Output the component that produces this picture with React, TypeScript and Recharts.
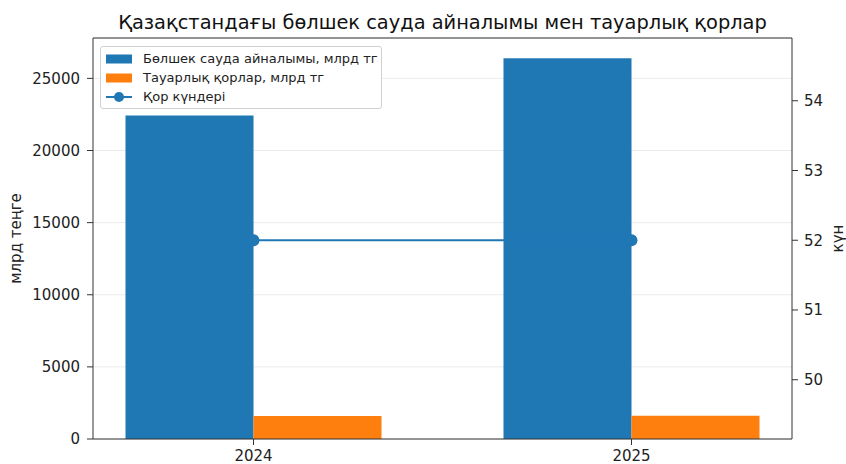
import React from "react";
import {
    ComposedChart,
    Bar,
    Line,
    XAxis,
    YAxis,
    CartesianGrid,
    ReferenceLine,
} from "recharts";

const years = ["2024", "2025"];
const retailTurnover = [22430, 26390];
const inventories = [1590, 1620];
const inventoryDays = [52, 52];

const leftTicks = [0, 5000, 10000, 15000, 20000, 25000];
const rightTicks = [50, 51, 52, 53, 54];

const BLUE = "#1f77b4";
const ORANGE = "#ff7f0e";
const FONT = "DejaVu Sans, sans-serif";

const data = years.map((year, i) => ({
    year,
    retail: retailTurnover[i],
    stock: inventories[i],
    days: inventoryDays[i],
}));

const legendItems = [
    { name: "Бөлшек сауда айналымы, млрд тг", color: BLUE, type: "rect" },
    { name: "Тауарлық қорлар, млрд тг", color: ORANGE, type: "rect" },
    { name: "Қор күндері", color: BLUE, type: "line" },
];

const ChartLegend = () => (
    <div
        style={{
            position: "absolute",
            left: 100,
            top: 46,
            width: 270,
            border: "1px solid #d0d0d0",
            borderRadius: 3,
            background: "rgba(255,255,255,0.85)",
            padding: "2px 5px",
            fontFamily: FONT,
            fontSize: 13,
            color: "#222",
        }}
    >
        {legendItems.map((item) => (
            <div
                key={item.name}
                style={{ display: "flex", alignItems: "center", height: 19, whiteSpace: "nowrap" }}
            >
                <svg width={26} height={12} style={{ marginRight: 11, flexShrink: 0 }}>
                    {item.type === "rect" ? (
                        <rect x={0} y={1.5} width={26} height={9} fill={item.color} />
                    ) : (
                        <g>
                            <line x1={0} y1={6} x2={26} y2={6} stroke={item.color} strokeWidth={2} />
                            <circle cx={13} cy={6} r={5} fill={item.color} />
                        </g>
                    )}
                </svg>
                <span>{item.name}</span>
            </div>
        ))}
    </div>
);

const tickStyle = { fontFamily: FONT, fontSize: 15, fill: "#222" };

export default function App() {
    return (
        <div style={{ position: "absolute", left: 0, top: 0, width: 846, height: 464, background: "#fff" }}>
            <div
                style={{
                    position: "absolute",
                    left: 93,
                    top: 11,
                    width: 699,
                    textAlign: "center",
                    whiteSpace: "nowrap",
                    fontFamily: FONT,
                    fontSize: 19.4,
                    lineHeight: "24px",
                    color: "#111",
                }}
            >
                Қазақстандағы бөлшек сауда айналымы мен тауарлық қорлар
            </div>
            <ComposedChart
                width={846}
                height={464}
                data={data}
                margin={{ top: 38, left: 33, right: 14, bottom: 0 }}
                barGap={0}
            >
                <CartesianGrid yAxisId="left" vertical={false} stroke="#ebebeb" />
                <XAxis
                    dataKey="year"
                    height={25}
                    padding={{ left: -28.5, right: -28.5 }}
                    tick={tickStyle}
                    tickLine={{ stroke: "#333" }}
                    axisLine={{ stroke: "#333" }}
                    tickMargin={5}
                />
                <YAxis
                    yAxisId="left"
                    width={60}
                    domain={[0, 27800]}
                    ticks={leftTicks}
                    allowDataOverflow
                    tick={tickStyle}
                    tickLine={{ stroke: "#333" }}
                    axisLine={{ stroke: "#333" }}
                    tickMargin={7}
                    label={{
                        value: "млрд теңге",
                        angle: -90,
                        position: "insideLeft",
                        offset: 0,
                        style: { fontFamily: FONT, fontSize: 15, fill: "#222", textAnchor: "middle" },
                        dx: -17,
                    }}
                />
                <YAxis
                    yAxisId="right"
                    orientation="right"
                    width={40}
                    domain={[49.15, 54.9]}
                    ticks={rightTicks}
                    allowDataOverflow
                    tick={tickStyle}
                    tickLine={{ stroke: "#333" }}
                    axisLine={{ stroke: "#333" }}
                    tickMargin={6}
                    label={{
                        value: "күн",
                        angle: -90,
                        position: "insideRight",
                        offset: 0,
                        style: { fontFamily: FONT, fontSize: 15, fill: "#222", textAnchor: "middle" },
                        dx: 6,
                    }}
                />
                <ReferenceLine yAxisId="left" y={27800} stroke="#333" />
                <Bar yAxisId="left" dataKey="retail" fill={BLUE} barSize={128} isAnimationActive={false} />
                <Bar yAxisId="left" dataKey="stock" fill={ORANGE} barSize={128} isAnimationActive={false} />
                <Line
                    yAxisId="right"
                    dataKey="days"
                    stroke={BLUE}
                    strokeWidth={2}
                    dot={{ r: 6, fill: BLUE, stroke: BLUE, strokeWidth: 0 }}
                    isAnimationActive={false}
                />
            </ComposedChart>
            <ChartLegend />
        </div>
    );
}
